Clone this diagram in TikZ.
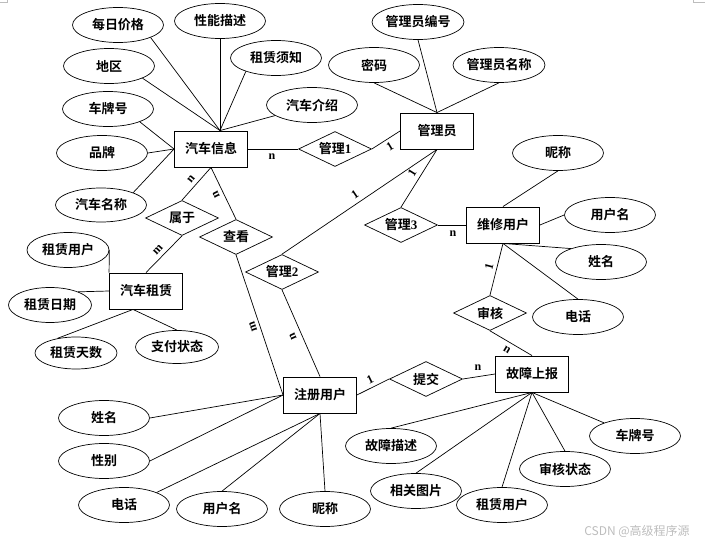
\documentclass[tikz,border=0pt]{standalone}
\usepackage{fontspec}
\setmainfont{Liberation Serif}
\newfontfamily\cjk{Noto Sans CJK SC Bold}
\newfontfamily\cjkmark{Noto Sans CJK SC}
\usetikzlibrary{shapes.geometric}
\definecolor{erink}{HTML}{000000}
\definecolor{ermark}{HTML}{BDBDBD}
\newcommand\latn[1]{{\rmfamily\bfseries #1}}

\begin{document}
\begin{tikzpicture}[
  x=1pt,
  y=-1pt,
  every node/.style={font=\cjk\fontsize{13}{15}\selectfont, erink},
  entity/.style={draw, rectangle, line width=0.9pt, minimum width=73pt,
                 minimum height=36pt, inner sep=0pt},
  attr/.style={draw, ellipse, line width=0.7pt, minimum width=91pt,
               minimum height=35pt, inner sep=0pt},
  rel/.style={draw, diamond, aspect=2, line width=0.7pt, minimum width=73pt,
              minimum height=35pt, inner sep=0pt},
  link/.style={erink, line width=0.7pt},
  card/.style={font=\rmfamily\bfseries\fontsize{12}{14}\selectfont, inner sep=0pt}
]
  % ---- page, same size as the screenshot ----
  \useasboundingbox (0,0) rectangle (705,545);
  \draw[ermark, line width=0.8pt] (0,2) -- (7,2) -- (7,0);
  \draw[ermark, line width=0.8pt] (693,0) -- (693,2) -- (705,2);

  % ---- entities ----
  \node[entity] (car)    at (211,149) {汽车信息};
  \node[entity] (mgr)    at (437,131) {管理员};
  \node[entity] (rent)   at (146,291) {汽车租赁};
  \node[entity] (repair) at (503,225) {维修用户};
  \node[entity] (reg)    at (320,395) {注册用户};
  \node[entity] (fault)  at (532,374) {故障上报};

  % ---- relationships ----
  \node[rel] (m1)     at (335,149) {管理\latn{1}};
  \node[rel] (belong) at (182,218) {属于};
  \node[rel] (look)   at (236,237) {查看};
  \node[rel] (m2)     at (282,272) {管理\latn{2}};
  \node[rel] (m3)     at (401,225) {管理\latn{3}};
  \node[rel] (audit)  at (490,313) {审核};
  \node[rel] (submit) at (426,379) {提交};

  % ---- attributes of the car ----
  \node[attr] (price)  at (118,25)  {每日价格};
  \node[attr] (perf)   at (220,21)  {性能描述};
  \node[attr] (notice) at (276,58)  {租赁须知};
  \node[attr] (area)   at (109,66)  {地区};
  \node[attr] (plate)  at (108,109) {车牌号};
  \node[attr] (intro)  at (312,105) {汽车介绍};
  \node[attr] (brand)  at (102,153) {品牌};
  \node[attr, minimum height=34pt] (carname) at (101,205) {汽车名称};

  % ---- attributes of the admin ----
  \node[attr] (mgrno)   at (418,22) {管理员编号};
  \node[attr] (pwd)     at (374,65) {密码};
  \node[attr] (mgrname) at (499,65) {管理员名称};

  % ---- attributes of the repair user ----
  \node[attr] (rnick) at (558,153) {昵称};
  \node[attr] (ruser) at (610,215) {用户名};
  \node[attr] (rname) at (601,262) {姓名};
  \node[attr] (rtel)  at (578,317) {电话};

  % ---- attributes of the rental ----
  \node[attr, minimum width=82pt] (renter) at (68,250) {租赁用户};
  \node[attr, minimum width=83pt] (rentdate) at (50,305) {租赁日期};
  \node[attr, minimum width=82pt, minimum height=32pt] (rentdays) at (76,353) {租赁天数};
  \node[attr, minimum width=83pt, minimum height=33pt] (paystate) at (177,347) {支付状态};

  % ---- attributes of the registered user ----
  \node[attr] (gname) at (104,418) {姓名};
  \node[attr] (gsex)  at (104,461) {性别};
  \node[attr] (gtel)  at (124,505) {电话};
  \node[attr] (guser) at (222,509) {用户名};
  \node[attr] (gnick) at (325,509) {昵称};

  % ---- attributes of the fault report ----
  \node[attr] (fdesc)   at (391,446) {故障描述};
  \node[attr] (fpic)    at (416,491) {相关图片};
  \node[attr] (frenter) at (502,505) {租赁用户};
  \node[attr] (fstate)  at (565,469) {审核状态};
  \node[attr] (fplate)  at (635,436) {车牌号};

  % ---- attribute links ----
  \coordinate (cartop)   at ([xshift=9pt]car.north);
  \coordinate (rentfoot) at ([xshift=-13pt]rent.south);
  \draw[link] (price.-21) -- (cartop);
  \draw[link] (perf.south) -- (cartop);
  \draw[link] (notice.204) -- (cartop);
  \draw[link] (area.-20) -- (cartop);
  \draw[link] (intro.196) -- (cartop);
  \draw[link] (plate.-22) -- (car.west);
  \draw[link] (brand.east) -- (car.west);
  \draw[link] (carname.21) -- (car.west);

  \draw[link] (mgrno.south) -- (mgr.north);
  \draw[link] (pwd.south) -- (mgr.north);
  \draw[link] (mgrname.south) -- (mgr.north);

  \draw[link] (rnick.south) -- (repair.north);
  \draw[link] (ruser.west) -- (repair.east);
  \draw[link] (rname.156) -- (repair.south);
  \draw[link] (rtel.north) -- (repair.south);

  \draw[link] (renter.east) -- (rent.north west);
  \draw[link] (rentdate.25) -- (rent.west);
  \draw[link] (rentdays.142) -- (rentfoot);
  \draw[link] (paystate.north) -- (rentfoot);

  \draw[link] (gname.east) -- (reg.west);
  \draw[link] (gsex.east) -- (reg.west);
  \draw[link] (gtel.21) -- (reg.south);
  \draw[link] (guser.north) -- (reg.south);
  \draw[link] (gnick.north) -- (reg.south);

  \draw[link] (fdesc.north) -- (fault.south);
  \draw[link] (fpic.north) -- (fault.south);
  \draw[link] (frenter.north) -- (fault.south);
  \draw[link] (fstate.north) -- (fault.south);
  \draw[link] (fplate.157) -- (fault.south);

  % ---- relationship links ----
  \draw[link] (car.east) -- (m1.west);
  \draw[link] (m1.east) -- (mgr.west);
  \draw[link] (car.south) -- (belong.north);
  \draw[link] (belong.south) -- (rent.north);
  \draw[link] (car.south) -- (look.north);
  \draw[link] (look.south) -- (reg.west);
  \draw[link] (mgr.south) -- (m2.north);
  \draw[link] (m2.south) -- (reg.north);
  \draw[link] (mgr.south) -- (m3.north);
  \draw[link] (m3.east) -- (repair.west);
  \draw[link] (repair.south) -- (audit.north);
  \draw[link] (audit.south) -- (fault.north);
  \draw[link] (reg.east) -- (submit.west);
  \draw[link] (submit.east) -- (fault.west);

  % ---- cardinalities ----
  \node[card] (cm1car)   at (272,157) {n};
  \node[card, rotate=31] (cm1mgr) at (390,147) {1};
  \node[card, rotate=50] (cbelcar) at (191,179) {n};
  \node[card, rotate=47] (cbelrent) at (158,250) {m};
  \node[card, rotate=116] (clookcar) at (216,195) {n};
  \node[card, rotate=109] (clookreg) at (253,327) {m};
  \node[card, rotate=34] (cm2mgr) at (355,195) {1};
  \node[card, rotate=114] (cm2reg) at (293,337) {n};
  \node[card, rotate=58] (cm3mgr) at (412,173) {1};
  \node[card] (cm3rep)  at (453,234) {n};
  \node[card, rotate=75] (caudrep) at (489,267) {1};
  \node[card, rotate=-31] (caudflt) at (507,350) {n};
  \node[card, rotate=26] (csubreg) at (370,380) {1};
  \node[card] (csubflt) at (478,368) {n};

  % ---- watermark ----
  \node[font=\cjkmark\fontsize{12}{14}\selectfont, text=ermark] (mark) at (637,531) {CSDN @高级程序源};
\end{tikzpicture}
\end{document}
